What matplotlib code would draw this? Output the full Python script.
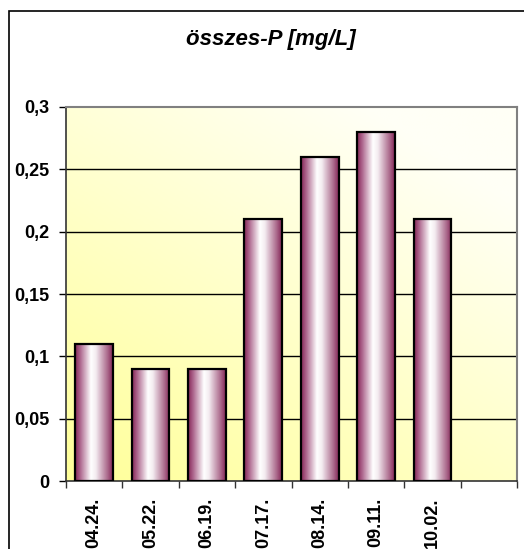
import numpy as np
import matplotlib.pyplot as plt
from matplotlib.colors import LinearSegmentedColormap
from matplotlib.patches import Rectangle
from matplotlib.ticker import MultipleLocator, FuncFormatter

dates = ['04.24.', '05.22.', '06.19.', '07.17.', '08.14.', '09.11.', '10.02.']
values = [0.11, 0.09, 0.09, 0.21, 0.26, 0.28, 0.21]
title = 'összes-P [mg/L]'

plt.rcParams['font.family'] = ['Liberation Sans', 'DejaVu Sans']

fig = plt.figure(figsize=(5.24, 5.49), dpi=100)
ax = fig.add_axes([66 / 524, 1 - 481 / 549, 451 / 524, 374 / 549])

# outer chart border (runs off the right and bottom edge)
fig.patches.append(Rectangle((9 / 524, -0.1), 1.0, 1 - 11 / 549 + 0.1,
                             transform=fig.transFigure, fill=False,
                             edgecolor='black', linewidth=1.2))

n_slots = 8
ax.set_xlim(0, n_slots)
ax.set_ylim(0, 0.3)

# background gradient: yellow bottom-left -> near white top-right
gx, gy = np.meshgrid(np.linspace(0, 1, 200), np.linspace(0, 1, 200))
t = np.clip((gx * 0.6 + gy * 0.8) / 1.2, 0, 1)
bg_cmap = LinearSegmentedColormap.from_list('bg', ['#ffff99', '#fffff6'])
ax.imshow(t, cmap=bg_cmap, extent=(0, n_slots, 0, 0.3), origin='lower',
          aspect='auto', zorder=0)

# bars
xpos = np.arange(len(values)) + 0.5
bars = ax.bar(xpos, values, width=0.67, facecolor='none', edgecolor='black',
              linewidth=1.6, zorder=3)

bar_cmap = LinearSegmentedColormap.from_list(
    'bar', [(0, '#862858'), (0.12, '#a95f88'), (0.42, '#ffffff'),
            (0.55, '#f4ecf1'), (0.85, '#ae6f90'), (1, '#862858')])
grad = np.linspace(0, 1, 100).reshape(1, -1)
for b in bars:
    x0, y0 = b.get_x(), b.get_y()
    ax.imshow(grad, cmap=bar_cmap, extent=(x0, x0 + b.get_width(), y0, y0 + b.get_height()),
              aspect='auto', zorder=2)

ax.set_xlim(0, n_slots)
ax.set_ylim(0, 0.3)

# gridlines
for yv in np.arange(0.05, 0.3, 0.05):
    ax.axhline(yv, color='black', linewidth=1.0, zorder=1)

ax.yaxis.set_major_locator(MultipleLocator(0.05))
ax.yaxis.set_major_formatter(FuncFormatter(lambda v, p: ('%g' % round(v, 2)).replace('.', ',')))
ax.set_xticks(np.arange(0, n_slots + 1))
ax.set_xticklabels([])
ax.set_xticks(xpos, minor=True)
ax.set_xticklabels(dates, minor=True, rotation=90, fontsize=13, fontweight='bold')
ax.tick_params(axis='x', which='minor', length=0, pad=12)
ax.tick_params(axis='x', which='major', length=5, width=1, color='#333333')
ax.tick_params(axis='y', length=5, width=1, labelsize=13, pad=7)
for lbl in ax.get_yticklabels():
    lbl.set_fontweight('bold')

for side in ['top', 'right']:
    ax.spines[side].set_color('#808080')
    ax.spines[side].set_linewidth(1.5)
ax.spines['left'].set_color('#333333')
ax.spines['bottom'].set_color('#333333')
ax.spines['left'].set_linewidth(1.2)
ax.spines['bottom'].set_linewidth(1.2)

fig.text(271 / 524, 1 - 40 / 549, title, ha='center', va='center',
         fontsize=16, fontweight='bold', fontstyle='italic')

fig.savefig('out.png', dpi=100)
